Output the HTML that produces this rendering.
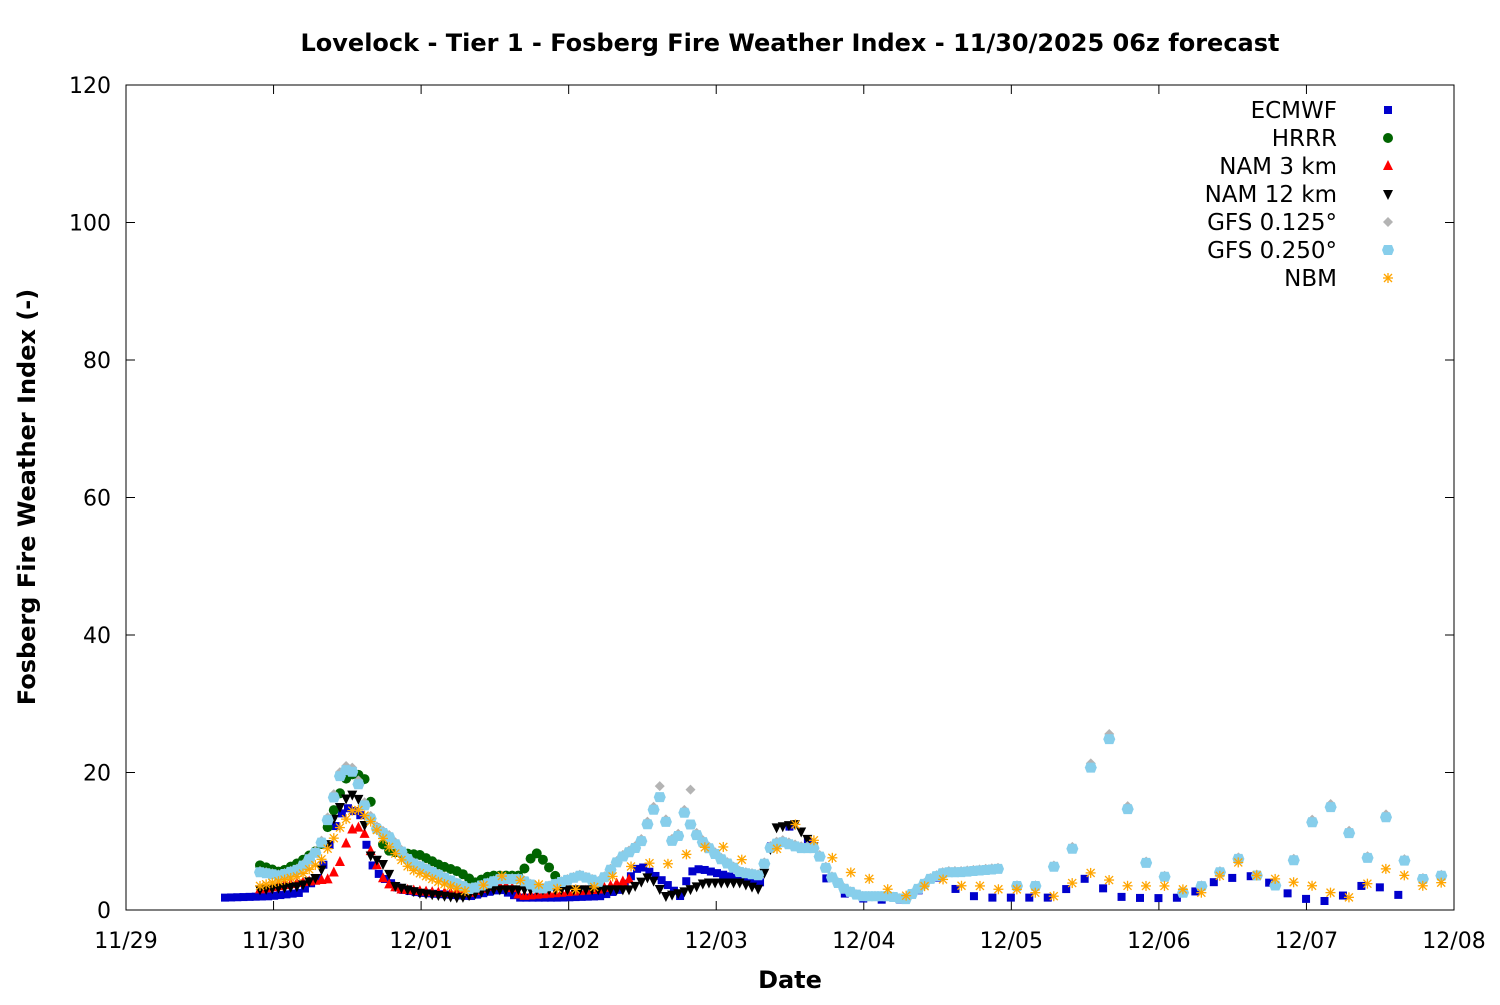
<!DOCTYPE html>
<html><head><meta charset="utf-8"><style>
body{margin:0;background:#fff}
svg text{font-family:"DejaVu Sans","Liberation Sans",sans-serif}
</style></head><body>
<svg id="s" width="1500" height="1000" xmlns="http://www.w3.org/2000/svg">
<rect width="1500" height="1000" fill="#fff"/>
<text x="790" y="51" font-size="24" font-weight="bold" text-anchor="middle">Lovelock - Tier 1 - Fosberg Fire Weather Index - 11/30/2025 06z forecast</text>
<text x="790" y="988" font-size="24" font-weight="bold" text-anchor="middle">Date</text>
<text transform="translate(35,497) rotate(-90)" font-size="24" font-weight="bold" text-anchor="middle">Fosberg Fire Weather Index (-)</text>
<g id="ax"></g>
<g id="pts"></g>
<g id="leg" font-size="23" text-anchor="end">
<text x="1337" y="118">ECMWF</text>
<text x="1337" y="146">HRRR</text>
<text x="1337" y="174">NAM 3 km</text>
<text x="1337" y="202">NAM 12 km</text>
<text x="1337" y="230">GFS 0.125°</text>
<text x="1337" y="258">GFS 0.250°</text>
<text x="1337" y="286">NBM</text>
</g>
</svg>
<script>
var NS="http://www.w3.org/2000/svg";
function el(p,t,a){var e=document.createElementNS(NS,t);for(var k in a)e.setAttribute(k,a[k]);p.appendChild(e);return e;}
var ax=document.getElementById('ax'),P=document.getElementById('pts');
var X0=126,X1=1454,Y0=910,Y1=85;
function Y(v){return Y0-v*(Y0-Y1)/120;}
el(ax,'rect',{x:X0,y:Y1,width:X1-X0,height:Y0-Y1,fill:'none',stroke:'#000','stroke-width':1});
for(var v=0;v<=120;v+=20){var y=Y(v);
el(ax,'line',{x1:X0,x2:X0+9,y1:y,y2:y,stroke:'#000'});el(ax,'line',{x1:X1,x2:X1-9,y1:y,y2:y,stroke:'#000'});
var t=el(ax,'text',{x:111,y:y+8,'font-size':22,'text-anchor':'end'});t.textContent=v;}
var days=['11/29','11/30','12/01','12/02','12/03','12/04','12/05','12/06','12/07','12/08'];
for(var i=0;i<10;i++){var x=X0+i*(X1-X0)/9;
el(ax,'line',{x1:x,x2:x,y1:Y0,y2:Y0-9,stroke:'#000'});el(ax,'line',{x1:x,x2:x,y1:Y1,y2:Y1+9,stroke:'#000'});
var t=el(ax,'text',{x:x,y:948,'font-size':22,'text-anchor':'middle'});t.textContent=days[i];}
function interp(k,x){for(var i=0;i<k.length-1;i++){if(x>=k[i][0]&&x<=k[i+1][0]){var f=(x-k[i][0])/(k[i+1][0]-k[i][0]||1);return k[i][1]+f*(k[i+1][1]-k[i][1]);}}return k[k.length-1][1];}
function gen(k,segs){var out=[];segs.forEach(function(s){for(var x=s[0];x<=s[1]+0.1;x+=s[2])out.push([x,interp(k,x)]);});return out;}
function mark(type,x,v,c){var y=Y(v);
if(type=='sq')el(P,'rect',{x:x-4,y:y-4,width:8,height:8,fill:c});
else if(type=='ci')el(P,'circle',{cx:x,cy:y,r:5,fill:c});
else if(type=='tu')el(P,'polygon',{points:(x-5)+','+(y+4)+' '+(x+5)+','+(y+4)+' '+x+','+(y-6),fill:c});
else if(type=='td')el(P,'polygon',{points:(x-5)+','+(y-4)+' '+(x+5)+','+(y-4)+' '+x+','+(y+6),fill:c});
else if(type=='di')el(P,'polygon',{points:x+','+(y-5)+' '+(x+5)+','+y+' '+x+','+(y+5)+' '+(x-5)+','+y,fill:c});
else if(type=='pe')el(P,'polygon',{points:(x-4)+','+(y-5)+' '+(x+4)+','+(y-5)+' '+(x+6)+','+y+' '+(x+4)+','+(y+5)+' '+(x-4)+','+(y+5)+' '+(x-6)+','+y,fill:c});
else if(type=='st'){var g=el(P,'g',{stroke:c,'stroke-width':1.3});
el(g,'line',{x1:x-5,x2:x+5,y1:y,y2:y});el(g,'line',{x1:x,x2:x,y1:y-5,y2:y+5});
el(g,'line',{x1:x-4,x2:x+4,y1:y-4,y2:y+4});el(g,'line',{x1:x-4,x2:x+4,y1:y+4,y2:y-4});}}
var H=6.15,T=18.45;
var ec=gen([[225,1.8],[270,2],[300,2.5],[320,5],[335,12],[345,15],[360,14],[370,7],[380,5],[400,3],[420,2.5],[470,2],[500,3],[520,1.8],[560,1.8],[600,2],[620,3],[640,6.5],[655,5],[665,4],[680,2],[690,5.5],[700,6],[740,4.5],[760,4],[770,9],[780,11.5],[795,12.5],[810,9.5],[830,3.5],[850,2],[870,1.5],[905,1.5],[940,5],[960,2.5],[980,1.8],[1055,1.8],[1073,3.8],[1092,5],[1110,2],[1147,1.7],[1183,1.8],[1220,4.5],[1257,5],[1295,1.8],[1331,1.2],[1368,4],[1405,1.8]],[[225,760,H],[771,1405,T]]);
var hr=gen([[260,6.5],[280,5.5],[300,7],[320,9],[335,15],[345,19],[355,20],[365,19],[372,15],[380,10],[390,8.5],[420,8],[440,6.5],[460,5.5],[475,4],[490,5],[520,5],[535,8.5],[545,7],[555,5],[565,3]],[[260,565,H]]);
var n3=gen([[260,3],[300,4],[330,4.5],[340,7],[348,10.5],[355,12.5],[365,11],[372,8],[385,4],[400,3],[440,2.5],[470,2.5],[490,3.5],[510,3.5],[520,2],[560,2.5],[600,3],[630,4.5]],[[260,630,H]]);
var n12=gen([[260,3],[300,3.5],[320,5],[335,14],[350,17],[360,16],[370,8],[385,6.5],[395,3.5],[420,2.5],[460,1.8],[490,3],[540,3],[600,3],[630,3],[650,5],[665,2],[680,2.5],[690,3],[705,4],[740,4],[760,3],[776,12],[795,12.5],[815,9]],[[260,815,H]]);
var gk=[[260,5.5],[280,5],[300,6],[320,9],[335,17],[342,20.5],[355,20],[365,15],[375,12],[390,10.5],[410,7],[440,5],[470,3],[500,4.5],[520,4.5],[540,3],[560,4],[580,5],[600,4],[620,7.5],[640,9.5],[650,13.5],[660,16.5],[668,11.5],[675,9],[685,14.5],[693,11.5],[705,9.5],[720,7.5],[740,5.5],[760,5],[770,9],[780,10],[800,9],[815,9],[830,5],[845,3],[860,2],[890,2],[905,1.5],[930,4.5],[945,5.5],[960,5.5],[1000,6],[1017,3.5],[1036,3.5],[1054,6.3],[1073,9],[1092,21.5],[1110,25],[1128,14.5],[1147,6.5],[1165,4.8],[1183,2.5],[1202,3.5],[1220,5.5],[1239,7.5],[1257,5],[1276,3.5],[1295,7.5],[1313,13],[1331,15],[1350,11],[1368,7.5],[1386,13.5],[1405,7],[1423,4.5],[1442,5]];
var g25=gen(gk,[[260,1000,H],[1017,1442,T]]);
var g125=g25.map(function(p){var v=p[1];if(Math.abs(p[0]-660)<4)v=17.5;if(Math.abs(p[0]-690)<4)v=17;if(Math.abs(p[0]-668)<4)v=12.8;return [p[0],v*1.03];});
var nb=gen([[260,3.5],[300,5],[320,7],[340,12],[355,15],[370,13],[390,9],[410,6],[440,4],[470,2.5],[500,5],[530,4],[560,3],[590,3],[620,5.5],[640,7],[665,6.5],[685,8],[700,9],[720,9.5],[740,7.5],[760,5.5],[795,12.5],[815,10],[833,7.5],[850,5.5],[870,4.5],[888,3],[905,2],[925,3.5],[942,4.5],[962,3.5],[980,3.5],[999,3],[1017,3],[1036,2.5],[1054,2],[1073,4],[1092,5.5],[1110,4.3],[1128,3.5],[1147,3.5],[1165,3.5],[1183,3],[1202,2.5],[1220,5],[1239,7],[1257,5],[1276,4.5],[1295,4],[1313,3.5],[1331,2.5],[1350,1.8],[1386,6],[1405,5],[1423,3.5],[1442,4]],[[260,460,H],[465,760,T],[777,1442,T]]);
ec.forEach(function(p){mark('sq',p[0],p[1],'#0000cc')});
hr.forEach(function(p){mark('ci',p[0],p[1],'#006400')});
n3.forEach(function(p){mark('tu',p[0],p[1],'#ff0000')});
n12.forEach(function(p){mark('td',p[0],p[1],'#000')});
g125.forEach(function(p){mark('di',p[0],p[1],'#b4b4b4')});
g25.forEach(function(p){mark('pe',p[0],p[1],'#87ceeb')});
nb.forEach(function(p){mark('st',p[0],p[1],'#ffa500')});
var ly=[110,138,166,194,222,250,278];
[['sq','#0000cc'],['ci','#006400'],['tu','#ff0000'],['td','#000'],['di','#b4b4b4'],['pe','#87ceeb'],['st','#ffa500']].forEach(function(m,i){mark(m[0],1388,(Y0-ly[i])*120/(Y0-Y1),m[1]);});
</script>
</body></html>
